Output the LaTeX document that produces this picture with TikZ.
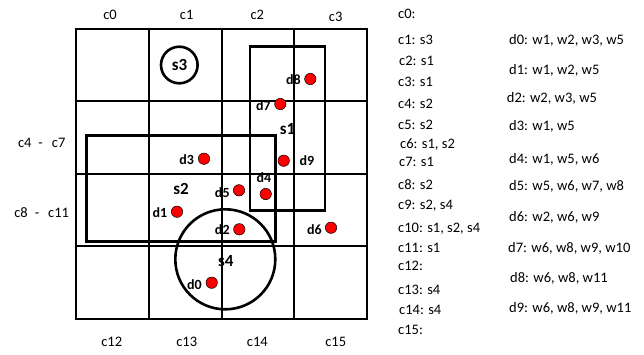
\documentclass[tikz,border=0pt]{standalone}
\usepackage{fontspec}
\setmainfont{Carlito}
\begin{document}
\begin{tikzpicture}[x=1pt,y=-1pt,
  gridline/.style={line width=1.1pt},
  region/.style={line width=2.6pt},
  dot/.style={circle,fill=red,draw=black,line width=0.5pt,minimum size=11.4pt,inner sep=0pt},
  dlab/.style={inner sep=0pt,font=\fontsize{14}{16}\selectfont\bfseries},
  slab/.style={inner sep=0pt,font=\fontsize{17}{19}\selectfont\bfseries},
  clab/.style={inner sep=0pt,font=\fontsize{14.5}{17}\selectfont},
  lst/.style={inner sep=0pt,anchor=mid west,font=\fontsize{14.5}{17}\selectfont}]
\useasboundingbox (0,0) rectangle (644,354);
% grid
\draw[gridline] (76,29) rectangle (367,319);
\foreach \x in {149,222,294} \draw[gridline] (\x,29) -- (\x,319);
\foreach \y in {101,174,246} \draw[gridline] (76,\y) -- (367,\y);
% regions
\draw[region] (250,46.7) rectangle (325,210.3);
\draw[region] (86.7,135.3) rectangle (275.3,241.3);
\node[region,circle,draw,minimum size=36.6pt,inner sep=0pt] (s3) at (179.3,65) {};
\node[region,circle,draw,minimum size=100pt,inner sep=0pt] (s4) at (225.3,259.3) {};
\node[slab] (s3l) at (179.5,65) {s3};
\node[slab] (s1l) at (287.5,129.3) {s1};
\node[slab] (s2l) at (181,189.3) {s2};
\node[slab] (s4l) at (225.8,260.7) {s4};
% points
\node[dot] (d8) at (310.3,79) {};
\node[dot] (d7) at (280.3,104) {};
\node[dot] (d3) at (204,158.7) {};
\node[dot] (d9) at (283.7,160.7) {};
\node[dot] (d4) at (265.7,194) {};
\node[dot] (d5) at (239,190.3) {};
\node[dot] (d1) at (177,211.7) {};
\node[dot] (d2) at (239.3,229.3) {};
\node[dot] (d6) at (331,227.7) {};
\node[dot] (d0) at (211.7,282.7) {};
\node[dlab] (d8l) at (293.3,80) {d8};
\node[dlab] (d7l) at (263.3,105.7) {d7};
\node[dlab] (d3l) at (186.7,159.3) {d3};
\node[dlab] (d9l) at (307,161) {d9};
\node[dlab] (d4l) at (264,178) {d4};
\node[dlab] (d5l) at (222.3,192.7) {d5};
\node[dlab] (d1l) at (160,212.3) {d1};
\node[dlab] (d2l) at (222.3,230) {d2};
\node[dlab] (d6l) at (314.3,230) {d6};
\node[dlab] (d0l) at (194.5,284.7) {d0};
% cell labels
\node[clab] (c0) at (110,15) {c0};
\node[clab] (c1) at (186.7,15) {c1};
\node[clab] (c2) at (257.3,15) {c2};
\node[clab] (c3) at (335.7,16.7) {c3};
\node[clab] (c12) at (111.7,341.7) {c12};
\node[clab] (c13) at (186.7,341.7) {c13};
\node[clab] (c14) at (257.3,341.7) {c14};
\node[clab] (c15) at (335.7,341.7) {c15};
\node[clab] (c47) at (41.7,142.7) {c4\hspace{7pt}-\hspace{9pt}c7};
\node[clab] (c811) at (41.7,212.7) {c8\hspace{7pt}-\hspace{9pt}c11};
% lists
\node[lst] (l0) at (398,16) {c0:};
\node[lst] (l1) at (398,41.7) {c1: s3};
\node[lst] (l2) at (399,63.3) {c2: s1};
\node[lst] (l3) at (398,84.3) {c3: s1};
\node[lst] (l4) at (398,106) {c4: s2};
\node[lst] (l5) at (398,126.7) {c5: s2};
\node[lst] (l6) at (400,145.7) {c6: s1, s2};
\node[lst] (l7) at (399,164.3) {c7: s1};
\node[lst] (l8) at (398,186.7) {c8: s2};
\node[lst] (l9) at (398,206.7) {c9: s2, s4};
\node[lst] (l10) at (398,230) {c10: s1, s2, s4};
\node[lst] (l11) at (398,250) {c11: s1};
\node[lst] (l12) at (398,268.3) {c12:};
\node[lst] (l13) at (398,291.7) {c13: s4};
\node[lst] (l14) at (399,311.7) {c14: s4};
\node[lst] (l15) at (398,331.7) {c15:};
\node[lst] (w0) at (509,41.7) {d0: w1, w2, w3, w5};
\node[lst] (w1) at (509,71.7) {d1: w1, w2, w5};
\node[lst] (w2) at (506.7,100) {d2: w2, w3, w5};
\node[lst] (w3) at (509,127.7) {d3: w1, w5};
\node[lst] (w4) at (509,161) {d4: w1, w5, w6};
\node[lst] (w5) at (509,188.3) {d5: w5, w6, w7, w8};
\node[lst] (w6) at (509,219.3) {d6: w2, w6, w9};
\node[lst] (w7) at (508,250) {d7: w6, w8, w9, w10};
\node[lst] (w8) at (510,280) {d8: w6, w8, w11};
\node[lst] (w9) at (509,310) {d9: w6, w8, w9, w11};
\end{tikzpicture}
\end{document}
